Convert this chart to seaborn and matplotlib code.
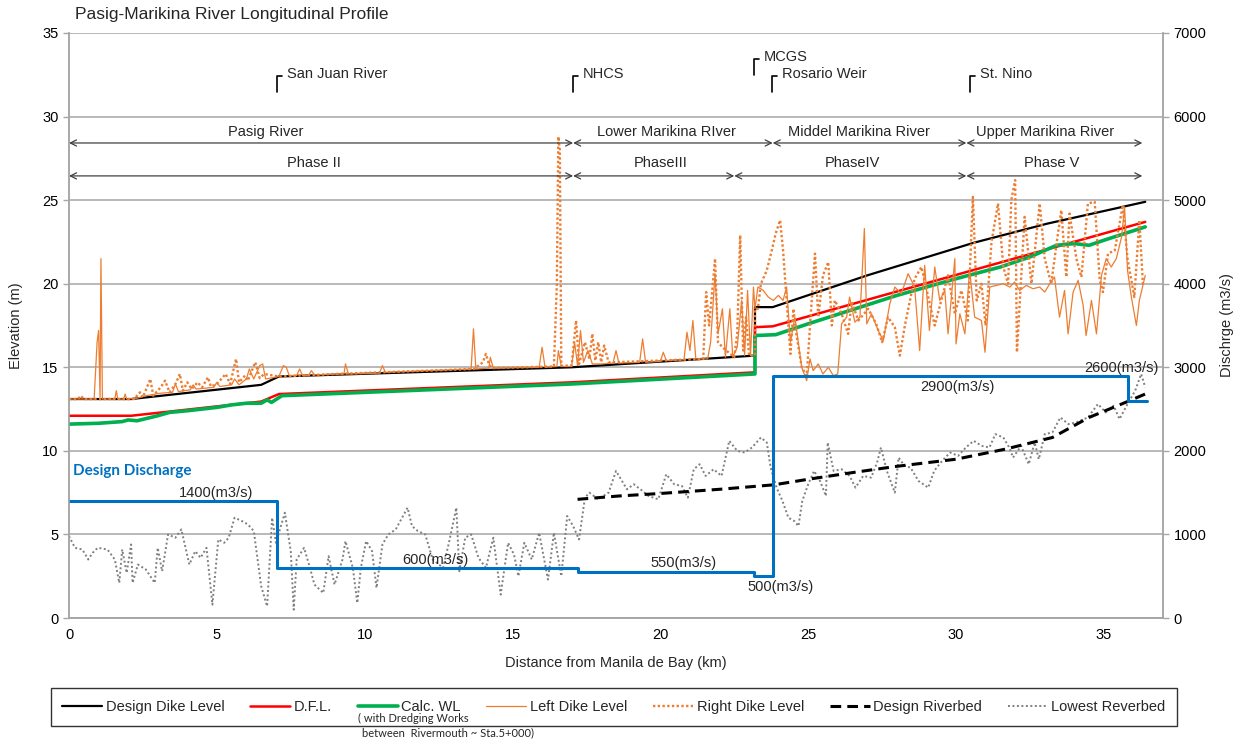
import numpy as np
import pandas as pd
import matplotlib
matplotlib.use("Agg")
import matplotlib.pyplot as plt
from matplotlib.lines import Line2D
import seaborn as sns

# ---------------- data ----------------
dike_km = [0, 2.1, 6.5, 7.1, 17.0, 23.2, 23.2, 23.8, 27.0, 30.6, 33.1, 36.4]
dike_el = [13.1, 13.1, 13.95, 14.45, 15.0, 15.7, 18.6, 18.6, 20.5, 22.45, 23.6, 24.9]

dfl_km = [0, 2.1, 6.5, 7.1, 17.0, 23.2, 23.2, 23.8, 36.4]
dfl_el = [12.1, 12.1, 12.95, 13.4, 14.1, 14.7, 17.4, 17.45, 23.7]

wl_km = [0, 1.0, 1.8, 2.0, 2.3, 3.0, 3.4, 4.0, 5.0, 5.5, 6.0, 6.5, 6.7, 6.85, 7.2,
         10.0, 17.0, 23.2, 23.2, 23.9, 25.0, 28.0, 30.0, 31.5, 32.5, 33.4, 34.0,
         34.5, 35.0, 36.4]
wl_el = [11.6, 11.65, 11.75, 11.85, 11.8, 12.1, 12.3, 12.4, 12.6, 12.75, 12.85, 12.85,
         13.05, 12.9, 13.3, 13.5, 14.0, 14.6, 16.9, 16.95, 17.6, 19.3, 20.3, 21.0,
         21.6, 22.3, 22.4, 22.3, 22.6, 23.4]

left_km = [0.0, 0.85, 0.95, 1.0, 1.05, 1.08, 1.13, 1.55, 1.6, 1.65, 1.85, 1.9, 1.95,
           2.3, 2.6, 3.1, 3.5, 3.6, 3.7, 4.1, 4.2, 4.3, 4.9, 5.0, 5.1, 5.5, 5.6, 5.75,
           6.0, 6.1, 6.25, 6.45, 6.55, 6.65, 7.1, 7.25, 7.35, 7.45, 7.7, 7.8, 7.9, 8.1,
           8.2, 8.3, 9.3, 9.35, 9.45, 10.5, 10.6, 10.7, 13.6, 13.68, 13.76, 14.2, 14.25,
           14.35, 15.9, 16.0, 16.1, 16.5, 16.55, 16.65, 17.0, 17.1, 17.2, 17.3, 17.4,
           17.55, 17.7, 18.0, 18.4, 18.5, 18.6, 19.3, 19.4, 19.5, 20.0, 20.1, 20.2, 20.8,
           20.9, 21.0, 21.1, 21.2, 21.6, 21.7, 21.85, 21.95, 22.1, 22.2, 22.35, 22.45,
           22.6, 22.75, 22.85, 22.95, 23.05, 23.15, 23.2,
           23.3, 23.48, 23.65, 23.82, 23.99, 24.15, 24.27, 24.4, 24.55, 24.78, 24.95,
           25.06, 25.17, 25.34, 25.5, 25.68, 25.85, 26.0, 26.13, 26.3, 26.4, 26.58,
           26.75, 26.9, 26.98, 27.14, 27.37, 27.54, 27.76, 27.93, 28.15, 28.38, 28.6,
           28.77, 28.94, 29.1, 29.28, 29.45, 29.62, 29.73, 29.96, 30.0, 30.13, 30.3,
           30.46, 30.63, 30.86, 30.98, 31.14, 31.37, 31.6, 31.82, 31.98, 32.15, 32.38,
           32.6, 32.83, 33.0, 33.17, 33.33, 33.5, 33.67, 33.79, 33.96, 34.13, 34.3,
           34.4, 34.58, 34.75, 34.92, 35.08, 35.25, 35.42, 35.6, 35.7, 35.8, 35.93,
           36.1, 36.2, 36.4]
left_el = [13.1, 13.1, 16.5, 17.2, 13.2, 21.5, 13.1, 13.1, 13.6, 13.1, 13.1, 13.4, 13.1,
           13.15, 13.3, 13.45, 13.5, 14.0, 13.55, 13.65, 13.95, 13.7, 13.8, 14.1, 13.85,
           13.95, 14.3, 13.95, 14.3, 14.9, 14.3, 15.1, 15.2, 14.3, 14.45, 15.1, 15.0,
           14.5, 14.5, 14.9, 14.5, 14.5, 14.8, 14.55, 14.6, 15.2, 14.6, 14.65, 15.1,
           14.7, 14.9, 17.3, 14.9, 14.95, 15.6, 14.95, 15.0, 16.2, 15.0, 15.05, 16.0,
           15.05, 15.05, 16.5, 15.1, 17.2, 15.3, 16.0, 15.2, 15.2, 15.25, 16.0, 15.25,
           15.3, 16.7, 15.3, 15.35, 15.9, 15.4, 15.45, 17.1, 16.0, 17.8, 15.5, 15.5,
           16.5, 20.6, 17.0, 18.5, 15.6, 18.5, 15.6, 16.2, 19.0, 15.7, 19.6, 15.7, 19.8,
           18.5,
           19.8, 19.6, 19.2, 19.0, 19.3, 19.0, 19.8, 16.5, 18.0, 15.0, 14.2, 15.5, 14.8,
           15.2, 14.6, 15.0, 14.5, 14.6, 17.6, 18.0, 19.2, 17.7, 18.0, 23.3, 17.6, 18.2,
           17.2, 16.6, 18.8, 19.8, 19.4, 20.6, 19.8, 16.0, 21.1, 17.2, 21.0, 19.0, 19.6,
           17.0, 21.5, 16.4, 18.2, 17.0, 20.8, 18.0, 17.8, 15.9, 19.8, 19.9, 20.0, 19.8,
           20.1, 19.6, 19.9, 19.7, 19.8, 19.5, 20.0, 20.4, 18.0, 19.6, 17.0, 19.5, 20.2,
           18.7, 16.9, 19.0, 17.0, 20.5, 21.5, 21.0, 21.5, 22.8, 24.6, 20.8, 19.2, 17.5,
           19.0, 20.5]

right_km = [0.0, 0.3, 0.4, 0.5, 2.2, 2.4, 2.5, 2.75, 2.85, 3.1, 3.25, 3.4, 3.6, 3.75,
            3.85, 4.0, 4.15, 4.35, 4.5, 4.7, 4.8, 5.0, 5.3, 5.45, 5.65, 5.75, 5.95,
            6.05, 6.3, 6.45, 6.6, 7.1, 9.0, 13.7, 14.0, 14.1, 14.2, 14.3, 16.4, 16.5,
            16.55, 16.6, 16.65, 17.0, 17.15, 17.25, 17.45, 17.6, 17.7, 17.8, 17.9,
            18.0, 18.1, 18.25, 18.4, 21.45, 21.55, 21.65, 21.85, 21.95, 22.1, 22.5,
            22.6, 22.7, 22.8, 22.9, 23.0, 23.2, 23.2,
            23.3, 23.4, 23.6, 23.77, 23.9, 24.05, 24.15, 24.27, 24.4, 24.5, 24.6, 24.78,
            24.95, 25.1, 25.23, 25.34, 25.5, 25.68, 25.8, 25.9, 26.13, 26.35, 26.47,
            26.7, 27.03, 27.3, 27.5, 27.7, 27.93, 28.1, 28.27, 28.5, 28.6, 28.83, 29.06,
            29.28, 29.5, 29.73, 29.96, 30.18, 30.4, 30.57, 30.7, 30.86, 31.0, 31.2,
            31.42, 31.6, 31.76, 31.87, 32.0, 32.06, 32.32, 32.55, 32.83, 33.0, 33.22,
            33.4, 33.56, 33.73, 33.84, 34.07, 34.24, 34.46, 34.69, 34.86, 34.97, 35.14,
            35.37, 35.64, 35.8, 36.03, 36.2, 36.32, 36.4]
right_el = [13.1, 13.1, 13.3, 13.1, 13.1, 13.5, 13.2, 14.3, 13.3, 13.8, 14.2, 13.5,
            14.0, 14.6, 13.6, 14.1, 13.7, 14.1, 13.8, 14.4, 13.85, 14.0, 14.6, 14.0,
            15.5, 14.1, 14.5, 14.2, 15.3, 14.35, 14.6, 14.45, 14.6, 14.9, 15.3, 15.8,
            15.2, 14.95, 15.05, 20.0, 28.8, 28.0, 15.1, 15.1, 17.8, 15.2, 16.5, 15.5,
            17.0, 15.4, 16.5, 15.3, 16.3, 15.3, 15.3, 15.5, 19.5, 17.5, 21.5, 16.5,
            16.2, 15.6, 17.0, 22.9, 16.0, 18.0, 15.7, 15.7, 18.5,
            18.5, 20.0, 20.8, 22.0, 23.0, 23.8, 22.0, 19.0, 15.8, 18.5, 17.0, 15.0,
            14.5, 18.5, 21.8, 18.0, 20.5, 21.3, 17.5, 19.0, 18.2, 17.0, 18.9, 17.8,
            18.5, 17.6, 16.5, 18.0, 17.4, 15.7, 17.5, 19.5, 20.3, 21.0, 19.2, 17.5,
            19.0, 20.5, 18.2, 19.6, 17.8, 25.2, 19.0, 20.0, 17.5, 22.5, 24.8, 21.0,
            20.0, 25.0, 26.2, 15.9, 24.0, 20.0, 24.8, 21.5, 20.0, 22.4, 24.4, 20.4,
            24.2, 21.5, 20.4, 24.8, 24.9, 20.2, 19.5, 21.8, 22.0, 24.7, 21.5, 19.2,
            23.8, 20.0, 20.1]

design_bed_km = [17.2, 18.6, 20.0, 22.0, 23.85, 25.0, 26.5, 27.93, 30.0, 31.66,
                 33.26, 34.5, 35.8, 36.4]
design_bed_el = [7.1, 7.3, 7.45, 7.7, 7.97, 8.3, 8.7, 9.06, 9.5, 10.1, 10.8, 12.0,
                 12.95, 13.4]

low_bed_km = [0.0, 0.2, 0.45, 0.65, 0.8, 0.97, 1.3, 1.55, 1.7, 1.8, 1.95, 2.1, 2.15,
              2.33, 2.6, 2.9, 3.0, 3.15, 3.35, 3.6, 3.8, 4.07, 4.27, 4.45, 4.65, 4.85,
              5.05, 5.25, 5.4, 5.6, 5.85, 6.05, 6.25, 6.5, 6.7, 6.87, 7.0, 7.3, 7.5,
              7.6, 7.7, 7.95, 8.15, 8.3, 8.6, 8.78, 8.98, 9.25, 9.35, 9.6, 9.75, 9.87,
              10.05, 10.25, 10.4, 10.6, 10.8, 11.05, 11.45, 11.6, 11.8, 12.05, 12.3,
              12.65, 12.85, 13.1, 13.2, 13.4, 13.6, 13.85, 14.1, 14.35, 14.6, 14.85,
              15.05, 15.2, 15.4, 15.65, 15.9, 16.2, 16.4, 16.65, 16.85, 17.05, 17.25,
              17.45, 17.6, 17.9, 18.25, 18.5, 18.87, 19.1, 19.4, 19.6, 19.93, 20.2,
              20.47, 20.73, 20.93, 21.13, 21.33, 21.53, 21.8, 22.07, 22.33, 22.6,
              22.85, 23.1, 23.4, 23.6, 23.73, 23.93, 24.13, 24.33, 24.53, 24.67, 24.8,
              25.0, 25.2, 25.4, 25.6, 25.66, 25.86, 26.13, 26.4, 26.6, 26.86, 27.13,
              27.33, 27.46, 27.66, 27.93, 28.06, 28.26, 28.46, 28.73, 29.06, 29.26,
              29.53, 29.8, 30.07, 30.33, 30.6, 30.86, 31.13, 31.33, 31.6, 31.8, 31.93,
              32.2, 32.46, 32.66, 32.8, 33.0, 33.26, 33.53, 33.8, 34.06, 34.46, 34.8,
              35.06, 35.33, 35.53, 35.8, 36.06, 36.26, 36.4]
low_bed_el = [4.9, 4.2, 4.1, 3.5, 3.9, 4.2, 4.1, 3.5, 2.1, 4.1, 2.7, 4.4, 2.1, 3.2,
              2.9, 2.1, 4.2, 2.8, 5.0, 4.8, 5.3, 3.2, 4.0, 3.6, 4.2, 0.8, 4.7, 4.5,
              4.8, 6.0, 5.8, 5.6, 5.2, 1.9, 0.7, 6.0, 4.5, 6.3, 4.0, 0.5, 3.5, 4.2,
              3.0, 2.0, 1.5, 3.7, 2.0, 3.5, 4.6, 3.0, 0.9, 3.0, 4.6, 4.0, 1.8, 4.4,
              5.0, 5.3, 6.6, 5.5, 5.2, 5.0, 3.5, 3.0, 4.5, 6.6, 2.8, 4.8, 5.0, 3.6,
              3.0, 4.8, 1.4, 4.5, 3.8, 2.5, 4.5, 3.5, 5.1, 2.3, 5.1, 2.5, 6.1, 5.5,
              4.7, 7.2, 7.5, 7.1, 7.5, 8.8, 7.7, 8.0, 7.6, 7.3, 7.1, 8.6, 8.0, 7.9,
              7.2, 8.9, 9.2, 8.5, 8.9, 8.5, 10.6, 10.0, 9.9, 10.2, 10.8, 10.5, 9.0,
              7.8, 7.0, 6.0, 5.8, 5.5, 7.0, 8.0, 8.8, 8.2, 7.3, 10.5, 8.8, 8.9, 8.5,
              7.8, 8.5, 8.4, 9.3, 10.2, 8.8, 7.5, 9.6, 9.1, 9.0, 8.2, 7.8, 8.8, 9.4,
              9.9, 9.7, 10.2, 10.6, 10.3, 10.2, 11.0, 10.8, 10.2, 9.6, 10.3, 9.2,
              10.5, 9.5, 11.0, 11.1, 12.0, 11.6, 11.7, 12.0, 12.8, 12.3, 12.7, 11.9,
              12.8, 13.6, 14.6, 13.8]

# design discharge (m3/s) along the river, piecewise constant
q_km = [0.0, 7.05, 17.2, 23.17, 23.8, 35.8, 36.45]
q_val = [1400, 600, 550, 500, 2900, 2600, 2600]

# reach / phase divisions
reach_names = ["Pasig River", "Lower Marikina RIver", "Middel Marikina River",
               "Upper Marikina River"]
reach_edges = [0.0, 17.05, 23.8, 30.35, 36.3]
phase_names = ["Phase II", "PhaseIII", "PhaseIV", "Phase V"]
phase_edges = [0.0, 17.05, 22.5, 30.35, 36.3]

landmarks = ["San Juan River", "NHCS", "MCGS", "Rosario Weir", "St. Nino"]
landmark_km = [7.03, 17.05, 23.17, 23.77, 30.47]

# ---------------- style ----------------
sns.set_theme(style="white")
plt.rcParams["font.family"] = ["Liberation Sans", "DejaVu Sans"]

ORANGE = "#ED7D31"
BLUE = "#0070C0"
GRID = "#A6A6A6"

fig = plt.figure(figsize=(12.37, 7.42), dpi=100)
ax = fig.add_axes([69 / 1237, 1 - 618 / 742, (1163 - 69) / 1237, (618 - 33) / 742])
ax2 = ax.twinx()


def df(x, y):
    return pd.DataFrame({"km": x, "el": y})


line_kw = dict(x="km", y="el", ax=ax, estimator=None, sort=False, legend=False)
sns.lineplot(data=df(dike_km, dike_el), color="black", lw=1.6, zorder=3, **line_kw)
sns.lineplot(data=df(dfl_km, dfl_el), color="red", lw=1.8, zorder=3, **line_kw)
sns.lineplot(data=df(wl_km, wl_el), color="#00B050", lw=2.6, zorder=3, **line_kw)
sns.lineplot(data=df(left_km, left_el), color=ORANGE, lw=0.9, zorder=4, **line_kw)
sns.lineplot(data=df(right_km, right_el), color=ORANGE, lw=1.7,
             linestyle=(0, (1, 1)), zorder=4, **line_kw)
sns.lineplot(data=df(design_bed_km, design_bed_el), color="black", lw=2.2,
             linestyle=(0, (3.5, 2)), zorder=5, **line_kw)
sns.lineplot(data=df(low_bed_km, low_bed_el), color="#7F7F7F", lw=1.4,
             linestyle=(0, (1, 1.3)), zorder=4, **line_kw)

sns.lineplot(data=df(q_km, q_val), x="km", y="el", ax=ax2, estimator=None,
             sort=False, legend=False, color=BLUE, lw=2.2, drawstyle="steps-post")

# axes
ax.set_xlim(0, 37)
ax.set_ylim(0, 35)
ax2.set_ylim(0, 7000)
ax.set_xticks(np.arange(0, 36, 5))
ax.set_yticks(np.arange(0, 36, 5))
ax2.set_yticks(np.arange(0, 7001, 1000))
ax.yaxis.grid(True, color=GRID, lw=1.1)
ax.set_axisbelow(True)
for a in (ax, ax2):
    for s in a.spines.values():
        s.set_color(GRID)
        s.set_linewidth(1.1)
    a.spines["top"].set_visible(False)
    a.tick_params(colors="black", labelsize=10.5, length=4, width=1, direction="out")
    a.tick_params(axis="both", color=GRID)
ax.tick_params(axis="x", pad=3)
ax.set_xlabel("Distance from Manila de Bay (km)", fontsize=10.5, labelpad=10)
ax.set_ylabel("Elevation (m)", fontsize=10.5, labelpad=14)
ax2.set_ylabel("Dischrge (m3/s)", fontsize=10.5, labelpad=10)

# reach and phase arrows
arrow_kw = dict(arrowstyle="<->", color="#404040", lw=0.9, shrinkA=0, shrinkB=0,
                mutation_scale=11)
for names, edges, y_line in ((reach_names, reach_edges, 28.42),
                             (phase_names, phase_edges, 26.45)):
    for i in range(len(names)):
        ax.annotate("", xy=(edges[i], y_line), xytext=(edges[i + 1], y_line),
                    arrowprops=arrow_kw, zorder=6)
centers_reach = [6.66, 20.2, 26.7, 33.0]
centers_phase = [8.3, 20.0, 26.5, 33.25]
for name, cx in zip(reach_names, centers_reach):
    ax.text(cx, 29.05, name, ha="center", va="center", fontsize=10.5)
for name, cx in zip(phase_names, centers_phase):
    ax.text(cx, 27.2, name, ha="center", va="center", fontsize=10.5)

# landmark brackets
lm_low = [31.5, 31.5, 32.5, 31.5, 31.5]
for name, km, y0 in zip(landmarks, landmark_km, lm_low):
    ax.plot([km, km, km + 0.18], [y0, y0 + 0.95, y0 + 0.95], color="black", lw=1.2)
    ax.text(km + 0.33, y0 + 1.05, name, ha="left", va="center", fontsize=10.5)

# discharge labels
q_labels = [(4.97, 7.48, 1400), (12.38, 3.47, 600), (20.8, 3.3, 550),
            (24.08, 1.86, 500), (30.06, 13.82, 2900), (35.6, 14.96, 2600)]
for x, y, q in q_labels:
    ax.text(x, y, f"{q}(m3/s)", ha="center", va="center", fontsize=10.5, zorder=7)
ax.text(0.15, 8.8, "Design Discharge", color=BLUE, fontsize=11, fontweight="bold",
        family=["Lato", "DejaVu Sans"], ha="left", va="center")

# title
fig.text(75 / 1237, 1 - 15 / 742, "Pasig-Marikina River Longitudinal Profile",
         fontsize=12.5, ha="left", va="center")

# legend
handles = [
    Line2D([], [], color="black", lw=1.6),
    Line2D([], [], color="red", lw=1.8),
    Line2D([], [], color="#00B050", lw=2.6),
    Line2D([], [], color=ORANGE, lw=0.9),
    Line2D([], [], color=ORANGE, lw=1.7, linestyle=(0, (1, 1))),
    Line2D([], [], color="black", lw=2.2, linestyle=(0, (3.5, 2))),
    Line2D([], [], color="#7F7F7F", lw=1.4, linestyle=(0, (1, 1.3))),
]
labels = ["Design Dike Level", "D.F.L.", "Calc. WL", "Left Dike Level",
          "Right Dike Level", "Design Riverbed", "Lowest Reverbed"]
leg = fig.legend(handles, labels, loc="center", ncol=7,
                 bbox_to_anchor=((58 + 1170) / 2 / 1237, 1 - 707 / 742),
                 fontsize=10.5, frameon=True, fancybox=False, edgecolor="black",
                 handlelength=2.75, handletextpad=0.25, columnspacing=1.75,
                 borderpad=0.8)
leg.get_frame().set_linewidth(1.0)

# note under the Calc. WL entry, aligned with its legend key
fig.canvas.draw()
calc_box = leg.get_texts()[2].get_window_extent()
note_x = (calc_box.x0 - 43) / 1237
fig.text(note_x, 1 - 718 / 742, "( with Dredging Works", fontsize=8,
         family=["Lato", "DejaVu Sans"], ha="left", va="center", zorder=10)
fig.text(note_x + 4 / 1237, 1 - 733 / 742, "between  Rivermouth ~ Sta.5+000)",
         fontsize=8, family=["Lato", "DejaVu Sans"], ha="left", va="center",
         zorder=10)

fig.savefig("out.png", dpi=100)
